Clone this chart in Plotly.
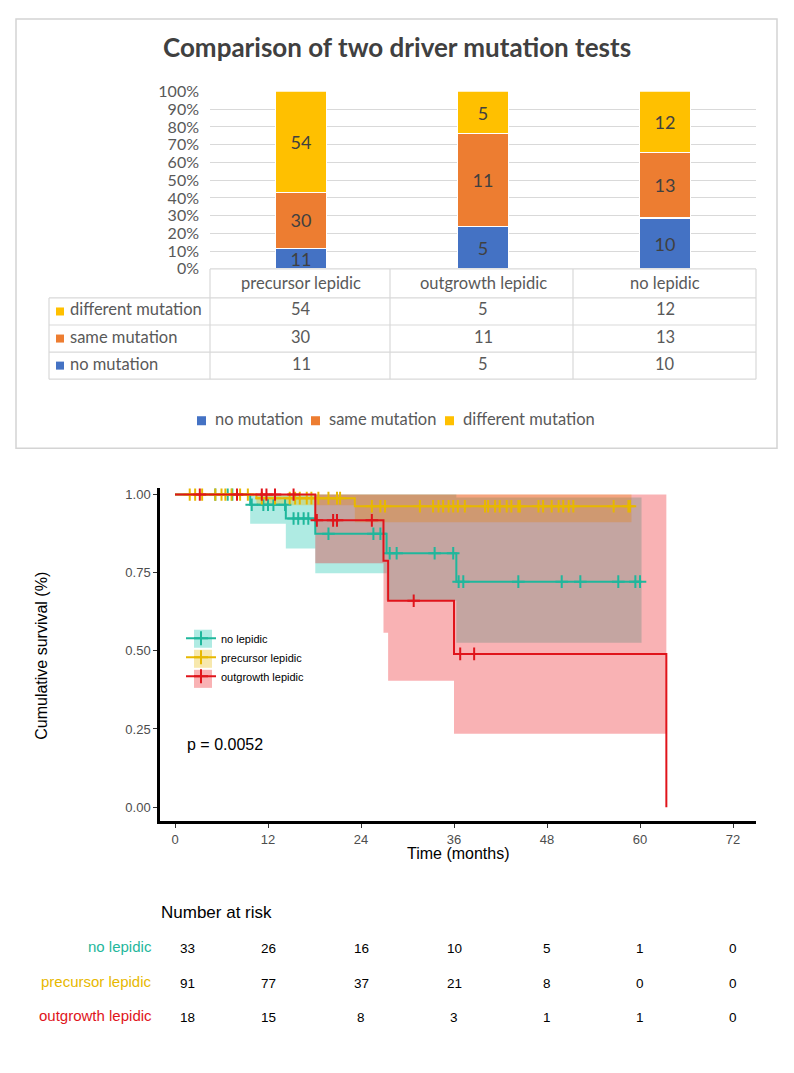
import numpy as np
import plotly.graph_objects as go

W, H = 794, 1073
OX = 8            # horizontal page offset observed in the rendering
OY, SY = 18.7, 0.98  # vertical page offset / scale observed in the rendering
def px(x): return (x - OX) / W
def py(y): return 1 - ((y - OY) / SY) / H

# ---------------- Data: driver mutation comparison ----------------
groups = ["precursor lepidic", "outgrowth lepidic", "no lepidic"]
no_mutation = [11, 5, 10]
same_mutation = [30, 11, 13]
different_mutation = [54, 5, 12]
pct_ticks = list(range(0, 101, 10))

# ---------------- Data: Kaplan-Meier ----------------
km_ticks = [0, 12, 24, 36, 48, 60, 72]
surv_ticks = [0.0, 0.25, 0.50, 0.75, 1.00]

nolep_t = [0, 9.7, 14.3, 18.1, 27.3, 36.3]
nolep_s = [1.0, 0.967, 0.923, 0.874, 0.812, 0.721]
nolep_lo = [1.0, 0.906, 0.827, 0.748, 0.660, 0.526]
nolep_hi = [1.0, 1.0, 1.0, 1.0, 1.0, 0.99]
nolep_last = 60.0
nolep_band_last = 60.2
nolep_cens = [5.2, 6.8, 7.4, 9.9, 11.4, 12.0, 12.7, 14.2, 15.3, 15.9, 16.6, 17.2,
              19.8, 25.6, 26.5, 27.7, 28.6, 33.5, 35.9, 36.6, 37.2, 44.3, 49.9,
              52.3, 57.2, 59.4, 60.0]

prec_t = [0, 10.5, 23.2]
prec_s = [1.0, 0.988, 0.962]
prec_lo = [1.0, 0.965, 0.911]
prec_hi = [1.0, 1.0, 1.0]
prec_last = 58.7
prec_band_last = 58.9
prec_cens = [1.9, 2.6, 3.5, 5.2, 6.0, 6.5, 7.3, 8.4, 9.4,
             11.2, 12.9, 14.8, 15.5, 16.1, 17.0, 17.6, 18.5, 19.8, 20.9, 21.3,
             25.4, 26.5, 27.1, 31.6, 33.3, 34.0, 34.6, 35.3, 35.9, 36.5, 37.4,
             40.0, 40.4, 41.3, 41.9, 42.8, 43.4, 44.3, 44.5, 46.9, 47.5, 48.6,
             49.5, 50.1, 50.8, 51.4, 56.6, 58.5, 58.7]

out_t = [0, 18.1, 26.9, 27.5, 36.0, 63.4]
out_s = [1.0, 0.917, 0.788, 0.660, 0.490, 0.0]
out_lo = [1.0, 0.780, 0.558, 0.404, 0.235, 0.235]
out_hi = [1.0, 1.0, 1.0, 1.0, 1.0, 1.0]
out_cens = [3.2, 8.0, 11.2, 11.8, 12.9, 15.3, 18.3, 20.4, 20.9, 25.4, 30.8, 36.8, 38.6]

p_value = "p = 0.0052"

risk_groups = ["no lepidic", "precursor lepidic", "outgrowth lepidic"]
risk_nolep = [33, 26, 16, 10, 5, 1, 0]
risk_prec = [91, 77, 37, 21, 8, 0, 0]
risk_out = [18, 15, 8, 3, 1, 1, 0]

# ---------------- Styles ----------------
BLUE, ORANGE, GOLD = "#4472C4", "#ED7D31", "#FFC000"
TXT = "#595959"
GRID = "#D9D9D9"
XL_FONT = "Lato"
TEAL, YEL, RED = "#1FB79C", "#E7B800", "#E0141B"
TEAL_F, YEL_F, RED_F = "rgba(32,200,178,0.36)", "rgba(231,184,0,0.32)", "rgba(238,30,36,0.34)"
R_FONT = "Liberation Sans"

fig = go.Figure()

# ---- Stacked 100% bars
bar_series = [("no mutation", no_mutation, BLUE),
              ("same mutation", same_mutation, ORANGE),
              ("different mutation", different_mutation, GOLD)]
for name, vals, col in bar_series:
    fig.add_trace(go.Bar(
        x=groups, y=vals, name=name, marker=dict(color=col, line=dict(color="white", width=1.5)),
        width=0.28, text=[str(v) for v in vals], textposition="inside", textangle=0,
        insidetextanchor="middle", constraintext="none",
        textfont=dict(family=XL_FONT, size=18, color="#404040"),
        xaxis="x", yaxis="y", showlegend=False, hoverinfo="skip"))

# ---- KM confidence bands
def band(t, lo, hi, last, fillc):
    xs = list(t) + ([last] if last is not None else [])
    lo2 = list(lo) + ([lo[-1]] if last is not None else [])
    hi2 = list(hi) + ([hi[-1]] if last is not None else [])
    fig.add_trace(go.Scatter(x=xs, y=lo2, mode="lines", line=dict(width=0, shape="hv"),
                             xaxis="x2", yaxis="y2", showlegend=False, hoverinfo="skip"))
    fig.add_trace(go.Scatter(x=xs, y=hi2, mode="lines", line=dict(width=0, shape="hv"),
                             fill="tonexty", fillcolor=fillc,
                             xaxis="x2", yaxis="y2", showlegend=False, hoverinfo="skip"))

band(nolep_t, nolep_lo, nolep_hi, nolep_band_last, TEAL_F)
band(prec_t, prec_lo, prec_hi, prec_band_last, YEL_F)
band(out_t, out_lo, out_hi, None, RED_F)

# ---- KM step lines and censor marks
def step_at(t, s, c):
    idx = np.searchsorted(np.array(t), np.array(c), side="right") - 1
    return [s[i] for i in idx]

for t, s, last, cens, col in [(nolep_t, nolep_s, nolep_last, nolep_cens, TEAL),
                              (prec_t, prec_s, prec_last, prec_cens, YEL),
                              (out_t, out_s, None, out_cens, RED)]:
    xs = list(t) + ([last] if last is not None else [])
    ys = list(s) + ([s[-1]] if last is not None else [])
    fig.add_trace(go.Scatter(x=xs, y=ys, mode="lines", line=dict(color=col, width=2, shape="hv"),
                             xaxis="x2", yaxis="y2", showlegend=False, hoverinfo="skip"))
    fig.add_trace(go.Scatter(x=cens, y=step_at(t, s, cens), mode="markers",
                             marker=dict(symbol="cross-thin", size=9, line=dict(color=col, width=2)),
                             xaxis="x2", yaxis="y2", showlegend=False, hoverinfo="skip"))

# ---- KM legend entries
km_leg = [("no lepidic", TEAL, TEAL_F), ("precursor lepidic", YEL, YEL_F),
          ("outgrowth lepidic", RED, RED_F)]
for name, col, fc in km_leg:
    fig.add_trace(go.Scatter(x=[None], y=[None], mode="lines+markers", name=name,
                             line=dict(color=col, width=2),
                             marker=dict(symbol="cross-thin", size=10, line=dict(color=col, width=2)),
                             xaxis="x2", yaxis="y2", legend="legend2", showlegend=True))

shapes = []
annotations = []

# container of top chart
shapes.append(dict(type="rect", xref="paper", yref="paper", x0=px(16), x1=px(777), y0=py(448),
                   y1=min(py(15), 1 - 1 / H),
                   line=dict(color="#D4D4D4", width=1.5), fillcolor="white", layer="below"))

# title
annotations.append(dict(text="<b>Comparison of two driver mutation tests</b>", xref="paper", yref="paper",
                        x=px(397), y=py(48), showarrow=False, xanchor="center", yanchor="middle",
                        font=dict(family=XL_FONT, size=26, color="#404040")))

# data table lines
tl, c1, c2, c3, tr = 49, 210, 390, 573, 756
row_y = [269, 298, 325, 352, 379]
def hline(x0, x1, y):
    shapes.append(dict(type="line", xref="paper", yref="paper", x0=px(x0), x1=px(x1), y0=py(y), y1=py(y),
                       line=dict(color=GRID, width=1.2)))
def vline(x, y0, y1):
    shapes.append(dict(type="line", xref="paper", yref="paper", x0=px(x), x1=px(x), y0=py(y0), y1=py(y1),
                       line=dict(color=GRID, width=1.2)))
hline(c1, tr, row_y[0])
for y in row_y[1:]:
    hline(tl, tr, y)
for x in [c1, c2, c3, tr]:
    vline(x, row_y[0], row_y[-1])
vline(tl, row_y[1], row_y[-1])

TFS = 16.5
# header row (category names)
for g in groups:
    annotations.append(dict(text=g, xref="x", yref="paper", x=g, y=py(283), showarrow=False,
                            xanchor="center", yanchor="middle",
                            font=dict(family=XL_FONT, size=TFS, color=TXT)))
# table body
table_rows = [("different mutation", different_mutation, GOLD),
              ("same mutation", same_mutation, ORANGE),
              ("no mutation", no_mutation, BLUE)]
for i, (name, vals, col) in enumerate(table_rows):
    yc = (row_y[i + 1] + row_y[i + 2]) / 2
    shapes.append(dict(type="rect", xref="paper", yref="paper", x0=px(56), x1=px(64),
                       y0=py(yc + 4), y1=py(yc - 4), line=dict(width=0), fillcolor=col))
    annotations.append(dict(text=name, xref="paper", yref="paper", x=px(68), y=py(yc - 2), showarrow=False,
                            xanchor="left", yanchor="middle", font=dict(family=XL_FONT, size=TFS, color=TXT)))
    for g, v in zip(groups, vals):
        annotations.append(dict(text=str(v), xref="x", yref="paper", x=g, y=py(yc - 2), showarrow=False,
                                xanchor="center", yanchor="middle",
                                font=dict(family=XL_FONT, size=TFS, color=TXT)))

# bottom legend of the bar chart (keys + labels)
leg_x = [(197, 213), (311, 327), (445, 461)]
for (sx, tx), (name, vals, col) in zip(leg_x, bar_series):
    shapes.append(dict(type="rect", xref="paper", yref="paper", x0=px(sx), x1=px(sx + 9),
                       y0=py(425), y1=py(416), line=dict(width=0), fillcolor=col))
    annotations.append(dict(text=name, xref="paper", yref="paper", x=px(tx), y=py(419), showarrow=False,
                            xanchor="left", yanchor="middle", font=dict(family=XL_FONT, size=TFS, color=TXT)))

# KM legend key backgrounds
for k, (name, col, fc) in enumerate(km_leg):
    yc = 638 + 20 * k
    shapes.append(dict(type="rect", xref="paper", yref="paper", x0=px(194), x1=px(212),
                       y0=py(yc + 9), y1=py(yc - 9), line=dict(width=0), fillcolor=fc, layer="above"))

# KM texts
annotations.append(dict(text="Cumulative survival (%)", xref="paper", yref="paper", x=px(42), y=py(655),
                        textangle=-90, showarrow=False, xanchor="center", yanchor="middle",
                        font=dict(family=R_FONT, size=16, color="black")))
annotations.append(dict(text="Time (months)", xref="paper", yref="paper", x=px(458), y=py(852),
                        showarrow=False, xanchor="center", yanchor="middle",
                        font=dict(family=R_FONT, size=16, color="black")))
annotations.append(dict(text=p_value, xref="paper", yref="paper", x=px(185), y=py(744), xanchor="left",
                        yanchor="middle", showarrow=False, font=dict(family=R_FONT, size=16, color="black")))
annotations.append(dict(text="Number at risk", xref="paper", yref="paper", x=px(159), y=py(911), xanchor="left",
                        yanchor="middle", showarrow=False, font=dict(family=R_FONT, size=17, color="black")))
for name, vals, col, yy in [(risk_groups[0], risk_nolep, TEAL, 947),
                            (risk_groups[1], risk_prec, YEL, 982),
                            (risk_groups[2], risk_out, RED, 1016)]:
    annotations.append(dict(text=name, xref="paper", yref="paper", x=px(154), y=py(yy - 2), xanchor="right",
                            yanchor="middle", showarrow=False, font=dict(family=R_FONT, size=15, color=col)))
    for j, (tk, v) in enumerate(zip(km_ticks, vals)):
        annotations.append(dict(text=str(v), xref="x2", yref="paper", x=tk, y=py(yy), showarrow=False,
                                xanchor="center", yanchor="middle", xshift=12 if j == 0 else 0,
                                font=dict(family=R_FONT, size=13.5, color="black")))

fig.update_layout(
    width=W, height=H, margin=dict(l=0, r=0, t=0, b=0),
    paper_bgcolor="white", plot_bgcolor="rgba(0,0,0,0)",
    barmode="stack", barnorm="percent",
    shapes=shapes, annotations=annotations,
    xaxis=dict(domain=[px(c1), px(tr)], range=[-0.5, 2.5], showticklabels=False, showgrid=False,
               zeroline=False, showline=False, ticks="", anchor="y", fixedrange=True),
    yaxis=dict(domain=[py(269), py(92)], range=[0, 100], tickvals=pct_ticks,
               ticktext=[f"{v}%" for v in pct_ticks], showgrid=True, gridcolor=GRID, gridwidth=1,
               zeroline=False, showline=False, ticks="", ticklabelstandoff=10,
               tickfont=dict(family=XL_FONT, size=16, color=TXT), anchor="x"),
    xaxis2=dict(domain=[px(160), px(756)], range=[(160 - 175) / 7.75, (756 - 175) / 7.75],
                tickvals=km_ticks, showgrid=False, zeroline=False, showline=True, linecolor="black",
                linewidth=2.5, ticks="outside", ticklen=4, tickcolor="#333", tickwidth=1,
                tickfont=dict(family=R_FONT, size=13, color="#4D4D4D"), anchor="y2"),
    yaxis2=dict(domain=[py(820), py(488)], range=[(806 - 820) / 312, (806 - 488) / 312],
                tickvals=surv_ticks, tickformat=".2f", showgrid=False, zeroline=False, showline=True,
                linecolor="black", linewidth=2.5, ticks="outside", ticklen=4, tickcolor="#333",
                tickwidth=1, tickfont=dict(family=R_FONT, size=13, color="#4D4D4D"), anchor="x2"),
    legend2=dict(x=px(181), xanchor="left", y=py(623), yanchor="top",
                 font=dict(family=R_FONT, size=11, color="black"), bgcolor="rgba(0,0,0,0)",
                 itemwidth=30, itemclick=False),
)

fig.write_html("out.html")
